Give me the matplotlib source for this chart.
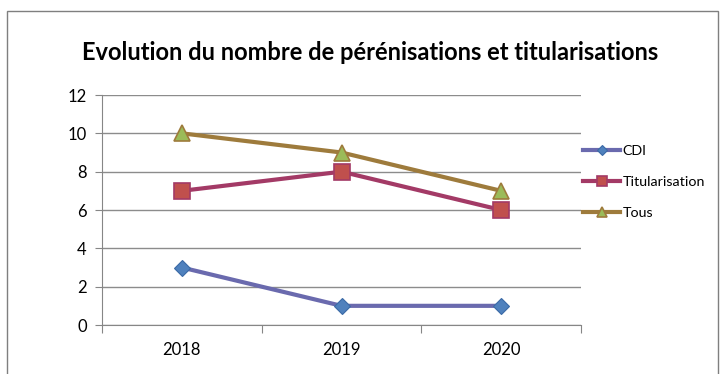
import matplotlib.pyplot as plt
from matplotlib.patches import Rectangle

# yearly counts
years = ['2018', '2019', '2020']
cdi = [3, 1, 1]
titularisation = [7, 8, 6]
tous = [10, 9, 7]

plt.rcParams['font.family'] = ['Lato', 'DejaVu Sans']

fig = plt.figure(figsize=(7.2, 3.74), dpi=100)
ax = fig.add_axes([102/720, 1-325/374, 479/720, 230/374])

pos = [1, 2, 3]
ax.plot(pos, cdi, color='#6A6AAE', lw=3, marker='D', ms=8,
        mfc='#4F81BD', mec='#3B6AA6', mew=0.8, label='CDI', zorder=3)
ax.plot(pos, titularisation, color='#A33A66', lw=3, marker='s', ms=11,
        mfc='#C0504D', mec='#A33A66', mew=1.2, label='Titularisation', zorder=3)
ax.plot(pos, tous, color='#9E7B3C', lw=3, marker='^', ms=11,
        mfc='#9BBB59', mec='#9E7B3C', mew=1.2, label='Tous', zorder=3)

ax.set_xlim(0.5, 3.5)
ax.set_ylim(0, 12)
ax.set_yticks(range(0, 13, 2))
ax.set_xticks([0.5, 1.5, 2.5, 3.5])
ax.set_xticklabels([])
ax.set_xticks(pos, minor=True)
ax.set_xticklabels(years, minor=True)
ax.tick_params(axis='x', which='minor', length=0, pad=12, labelsize=12)
ax.tick_params(axis='x', which='major', length=6, color='#868686', direction='out')
ax.tick_params(axis='y', length=5, color='#868686', labelsize=12, pad=6)

ax.grid(axis='y', color='#8c8c8c', lw=1)
ax.set_axisbelow(True)
for s in ['top', 'right']:
    ax.spines[s].set_visible(False)
for s in ['left', 'bottom']:
    ax.spines[s].set_color('#868686')

fig.legend(*ax.get_legend_handles_labels(), loc='center left',
           bbox_to_anchor=(583/720, 1-182/374), frameon=False, borderpad=0,
           borderaxespad=0, fontsize=10.3, handlelength=2.6, handletextpad=0.15,
           labelspacing=1.35, markerscale=0.6)

fig.text(0.514, 1-53/374, 'Evolution du nombre de pérénisations et titularisations',
         ha='center', va='center', fontsize=17, fontweight='bold')

# outer chart frame
fig.patches.append(Rectangle((7/720, -0.1), 711/720, 1.1 - 11/374, transform=fig.transFigure,
                             fill=False, ec='#7f7f7f', lw=1))

fig.savefig('out.png', dpi=100)
